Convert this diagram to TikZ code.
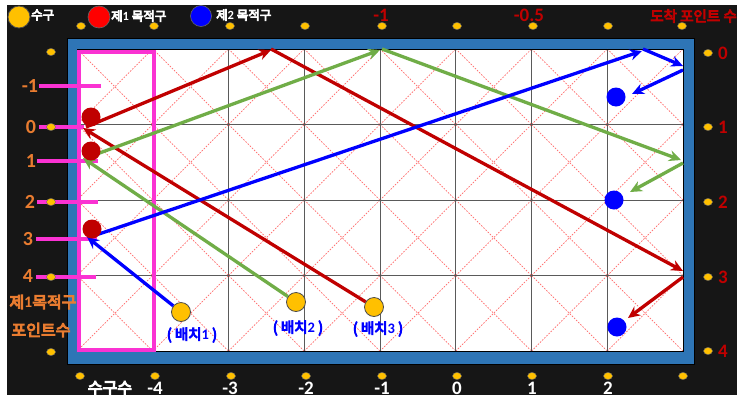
\documentclass[tikz,border=0pt]{standalone}
\usepackage{fontspec}
\setmainfont{Carlito}
\newfontfamily\kr{Noto Sans CJK KR}[FakeBold=6]
\newcommand{\dg}[1]{{\rmfamily\bfseries #1}}
\usetikzlibrary{arrows.meta}
\definecolor{bgblack}{HTML}{161616}
\definecolor{frameblue}{HTML}{2E75B6}
\definecolor{pinkk}{HTML}{FA32D2}
\definecolor{orangelab}{HTML}{E97C30}
\definecolor{redlab}{HTML}{C00000}
\definecolor{ballyellow}{HTML}{FFC000}
\definecolor{ballred}{HTML}{C00000}
\definecolor{ballblue}{HTML}{0000FF}
\definecolor{arrred}{HTML}{C00000}
\definecolor{arrgreen}{HTML}{70AD47}
\definecolor{arrblue}{HTML}{0000FF}
\definecolor{diagred}{HTML}{FF6A6A}
\definecolor{gridgray}{HTML}{5A5A5A}
\begin{document}
\begin{tikzpicture}[x=1pt,y=-1pt,
  ball/.style={circle,inner sep=0pt,minimum size=19pt},
  yball/.style={ball,fill=ballyellow,draw=black!70,line width=0.8pt},
  rball/.style={ball,fill=ballred},
  bball/.style={ball,fill=ballblue},
  shot/.style={line width=3.3pt,-{Stealth[length=12pt,width=11pt]}},
  diag/.style={draw=diagred,line width=0.7pt,dash pattern=on 1.6pt off 1.4pt},
  gridline/.style={draw=gridgray,line width=0.9pt},
  pinktick/.style={draw=pinkk,line width=3.2pt},
  railpt/.style={fill=ballyellow,draw=black!60,line width=0.4pt},
  numlbl/.style={font=\fontsize{19}{19}\selectfont\bfseries,inner sep=0pt},
  krlbl/.style={font=\kr\fontsize{16}{16}\selectfont,inner sep=0pt},
  leglbl/.style={font=\kr\fontsize{12.5}{13}\selectfont,inner sep=0pt,text=white,anchor=west},
  bclbl/.style={font=\kr\fontsize{14.5}{15}\selectfont,inner sep=0pt,text=arrblue}
]
\useasboundingbox (0,0) rectangle (743,402);
% background
\fill[bgblack] (7,5) rectangle (737,395);
\fill[frameblue,draw=black,line width=0.8pt] (67,38) rectangle (694,364);
\fill[white,draw=black,line width=1pt] (77,49) rectangle (683,351);
% diagonals
\foreach \i in {0,...,7}{
  \foreach \j in {0,...,3}{
    \draw[diag] ({77+\i*75.75},{49+\j*75.5}) -- ({77+(\i+1)*75.75},{49+(\j+1)*75.5});
    \draw[diag] ({77+\i*75.75},{49+(\j+1)*75.5}) -- ({77+(\i+1)*75.75},{49+\j*75.5});
  }
}
% grid
\foreach \i in {1,...,7}{\draw[gridline] ({77+\i*75.75},49) -- ({77+\i*75.75},351);}
\foreach \j in {1,...,3}{\draw[gridline] (77,{49+\j*75.5}) -- (683,{49+\j*75.5});}
\draw[black,line width=1pt] (77,49) rectangle (683,351);
% pink zone
\draw[pinkk,line width=3.4pt] (79,52) rectangle (154,350);
\draw[pinktick] (39,86) -- (101,86);
\draw[pinktick] (39,127) -- (84,127);
\draw[pinktick] (37,161) -- (98,161);
\draw[pinktick] (37,202) -- (98,202);
\draw[pinktick] (36,239) -- (97,239);
\draw[pinktick] (36,277) -- (96,277);
% rail points
\foreach \x in {81,154,230,305,382,457,533,608,682}{\path[railpt] (\x,26) ellipse (4.5 and 3.6);}
\foreach \x in {80,155,231,306,382,457,532,608,683}{\path[railpt] (\x,376) ellipse (4.5 and 3.6);}
\foreach \y in {52,127,202,277,352}{\path[railpt] (51,\y) ellipse (4.5 and 3.6);}
\foreach \y in {53,127,202,277,351}{\path[railpt] (708,\y) ellipse (4.5 and 3.6);}
% legend
\node[yball,minimum size=22pt] (legY) at (19,17) {};
\node[leglbl] (legYt) at (31,15) {수구};
\node[ball,fill=red,draw=black!60,line width=0.6pt,minimum size=22pt] (legR) at (99,17) {};
\node[leglbl] (legRt) at (111,16) {제\dg{1} 목적구};
\node[ball,fill=ballblue,draw=black!60,line width=0.6pt,minimum size=21pt] (legB) at (201,16) {};
\node[leglbl] (legBt) at (216,15) {제\dg{2} 목적구};
% top labels
\node[numlbl,text=redlab] (t1) at (381,15) {-1};
\node[numlbl,text=redlab] (t2) at (529,15) {-0.5};
\node[font=\kr\fontsize{14.5}{15}\selectfont,inner sep=0pt,text=redlab,anchor=east] (t3) at (737,16) {도착 포인트 수};
% right labels
\foreach \y/\t in {53/0,127/1,202/2,277/3,351/4}{\node[numlbl,text=redlab] at (723,\y) {\t};}
% left labels
\foreach \x/\y/\t in {30/86/-1,31/127/0,31/161/1,30/202/2,28/239/3,28/276/4}{\node[numlbl,font=\fontsize{20}{20}\selectfont\bfseries,text=orangelab] at (\x,\y) {\t};}
\node[krlbl,text=orangelab] (l1) at (43,302) {제\dg{1}목적구};
\node[krlbl,text=orangelab] (l2) at (41,330) {포인트수};
% bottom labels
\node[krlbl,text=white] (b0) at (110,388) {수구수};
\foreach \x/\t in {155/-4,230/-3,306/-2,382/-1,457/0,532/1,608/2}{\node[numlbl,text=white] at (\x,388) {\t};}
% cushion points
\coordinate (r1) at (83,128);
\coordinate (r1s) at (86,127);
\coordinate (r2) at (271,50);
\coordinate (r2s) at (271,49);
\coordinate (r3) at (683,271);
\coordinate (r3s) at (683,277);
\coordinate (r4) at (628,318);
\coordinate (g1) at (83,158);
\coordinate (g1s) at (86,158);
\coordinate (g2) at (380,50);
\coordinate (g2s) at (382,49);
\coordinate (g3) at (681,160);
\coordinate (g3s) at (683,163);
\coordinate (g4) at (630,192);
\coordinate (c1) at (87,237);
\coordinate (c1s) at (90,237);
\coordinate (c2) at (642,51);
\coordinate (c2s) at (643,49);
\coordinate (c3) at (683,66);
\coordinate (c3s) at (683,70);
\coordinate (c4) at (632,94);
% cue balls
\node[yball] (Y1) at (181,312) {};
\node[yball] (Y2) at (296,302) {};
\node[yball] (Y3) at (374,307) {};
% shots
\draw[shot,arrred] (Y3) -- (r1);
\draw[shot,arrred] (r1s) -- (r2);
\draw[shot,arrred] (r2s) -- (r3);
\draw[shot,arrred] (r3s) -- (r4);
\draw[shot,arrgreen] (Y2) -- (g1);
\draw[shot,arrgreen] (g1s) -- (g2);
\draw[shot,arrgreen] (g2s) -- (g3);
\draw[shot,arrgreen] (g3s) -- (g4);
\draw[shot,arrblue] (Y1) -- (c1);
\draw[shot,arrblue] (c1s) -- (c2);
\draw[shot,arrblue] (c2s) -- (c3);
\draw[shot,arrblue] (c3s) -- (c4);
% object balls
\node[rball] (R1) at (91,117) {};
\node[rball] (R2) at (91,151) {};
\node[rball] (R3) at (92,229) {};
\node[bball] (B1) at (616,97) {};
\node[bball] (B2) at (614,200) {};
\node[bball] (B3) at (617,327) {};
% layout labels
\node[bclbl] (p1) at (192,335) {( 배치\dg{1} )};
\node[bclbl] (p2) at (298,328) {( 배치\dg{2} )};
\node[bclbl] (p3) at (378,329) {( 배치\dg{3} )};
\end{tikzpicture}
\end{document}
